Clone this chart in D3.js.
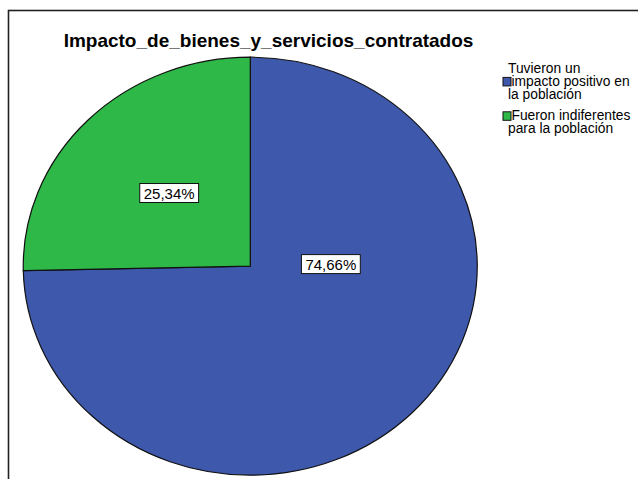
<!DOCTYPE html>
<html>
<head>
<meta charset="utf-8">
<script src="https://cdn.jsdelivr.net/npm/d3@7"></script>
<style>
  body { margin: 0; background: #fff; }
  svg { display: block; font-family: "Liberation Sans", Arial, sans-serif; }
</style>
</head>
<body>
<svg id="chart"></svg>
<script>
const chartTitle = "Impacto_de_bienes_y_servicios_contratados";
const categories = [
  ["Tuvieron un", "impacto positivo en", "la población"],
  ["Fueron indiferentes", "para la población"]
];
const percents = [74.66, 25.34];
const sliceColors = ["#3e58ac", "#2eb848"];

const W = 638, H = 479;
const svg = d3.select("#chart").attr("width", W).attr("height", H);

// outer frame (runs off the right / bottom edge like the screenshot)
svg.append("rect")
  .attr("x", 8.5).attr("y", 10.5)
  .attr("width", 700).attr("height", 600)
  .attr("fill", "none").attr("stroke", "#222").attr("stroke-width", 1.6);

svg.append("text")
  .attr("x", 268.5).attr("y", 47)
  .attr("text-anchor", "middle")
  .attr("font-size", 19).attr("font-weight", "bold")
  .text(chartTitle);

// pie is an ellipse: unit circle scaled on x and y
const cx = 250.3, cy = 266.2, rx = 227, ry = 209;

const pie = d3.pie().sort(null).value(d => d);
const arcs = pie(percents);
const arc = d3.arc().innerRadius(0).outerRadius(1);

const pieG = svg.append("g")
  .attr("transform", `translate(${cx},${cy}) scale(${rx},${ry})`);

pieG.selectAll("path")
  .data(arcs).enter()
  .append("path")
  .attr("d", arc)
  .attr("fill", (d, i) => sliceColors[i])
  .attr("stroke", "#111")
  .attr("stroke-width", 1.2)
  .attr("vector-effect", "non-scaling-stroke");

// label spots (fraction of radius, angle) roughly where SPSS put them
const labelSpot = [
  {r: 0.355, a: Math.PI / 2 - 0.027},
  {r: 0.5, a: null}
];
const fmt = v => d3.format(".2f")(v).replace(".", ",") + "%";

arcs.forEach((d, i) => {
  const s = labelSpot[i];
  const a = s.a == null ? (d.startAngle + d.endAngle) / 2 : s.a;
  const lx = cx + Math.sin(a) * s.r * rx;
  const ly = cy - Math.cos(a) * s.r * ry;
  const g = svg.append("g").attr("transform", `translate(${lx},${ly})`);
  const box = g.append("rect");
  const t = g.append("text")
    .attr("text-anchor", "middle")
    .attr("dy", "0.36em")
    .attr("font-size", 15)
    .text(fmt(percents[i]));
  const bb = t.node().getBBox();
  box.attr("x", bb.x - 4).attr("y", bb.y - 1)
    .attr("width", bb.width + 8).attr("height", bb.height + 2)
    .attr("fill", "#fff").attr("stroke", "#111").attr("stroke-width", 1);
});

// legend
const legend = svg.append("g").attr("font-size", 13.8);
const lineH = 12.6;
let yBase = 73.3;
categories.forEach((lines, i) => {
  const swatchLine = lines.length === 3 ? 1 : 0;
  lines.forEach((ln, j) => {
    legend.append("text")
      .attr("x", j === swatchLine ? 511.5 : 508)
      .attr("y", yBase + j * lineH)
      .text(ln);
  });
  legend.append("rect")
    .attr("x", 503).attr("y", yBase + swatchLine * lineH - 8.5)
    .attr("width", 8).attr("height", 8.5)
    .attr("fill", sliceColors[i]).attr("stroke", "#111").attr("stroke-width", 1);
  yBase += lines.length * lineH + 9.2;
});
</script>
</body>
</html>
